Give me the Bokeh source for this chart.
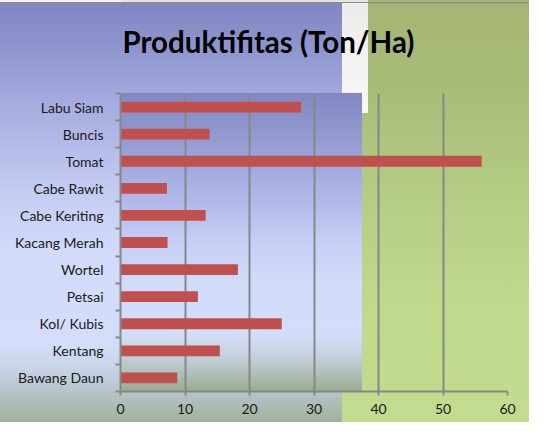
from bokeh.plotting import figure
from bokeh.models import FixedTicker
from bokeh.embed import file_html
from bokeh.resources import INLINE

# ---- data ----
categories = ["Bawang Daun", "Kentang", "Kol/ Kubis", "Petsai", "Wortel",
              "Kacang Merah", "Cabe Keriting", "Cabe Rawit", "Tomat", "Buncis", "Labu Siam"]
values = [8.8, 15.4, 25.0, 12.0, 18.2, 7.3, 13.2, 7.2, 56.0, 13.8, 28.0]
x_ticks = [0, 10, 20, 30, 40, 50, 60]
title_text = "Produktifitas (Ton/Ha)"

positions = [i + 0.5 for i in range(len(categories))]
boundaries = list(range(len(categories) + 1))

# ---- decorative slide background (CSS layers, element coordinates) ----
frame_grad = ("linear-gradient(to bottom, #8187c3 0%, #8d93cb 9.7%, #a2a9dd 24.9%, #b4bceb 38.3%, "
              "#c6cff5 50.1%, #d1dbfa 63.5%, #d3defb 80%, #c8d4e4 87%, #b1c0bb 93.8%, #99ad93 100%)"
              " 120px 93px / 242px 298px no-repeat")
white_strip = "linear-gradient(to bottom, #ececea, #f8f8f6) 342px 3px / 26px 110px no-repeat"
gray_line = "linear-gradient(#8c8c8c, #8c8c8c) 0px 2px / 100% 1.5px no-repeat"
top_left = "linear-gradient(#f4f4f1, #f4f4f1) 0px 0px / 121px 2px no-repeat"
top_mid = "linear-gradient(#e4e4e1, #e4e4e1) 121px 0px / 247px 2px no-repeat"
panel = ("linear-gradient(to bottom, #7f86c2 0%, #9097cf 11.7%, #a2a8dc 21.5%, #c4ccf2 45.1%, "
         "#d2dbfa 59.4%, #d4defb 80.9%, #c9d5e8 86.9%, #b7c4c8 92.8%, #9fb29c 100%)"
         " 0px 3px / 342px 419px no-repeat")
green = ("linear-gradient(to bottom, #a6b674 0%, #a9bc78 22%, #b4cc84 46%, #bed88c 70%, #c3dc90 100%)"
         " 0px 0px / 100% 100% no-repeat")
background = ", ".join([frame_grad, white_strip, gray_line, top_left, top_mid, panel, green])

p = figure(width=529, height=422, x_range=(0, 60), y_range=(0, 11),
           output_backend="svg", toolbar_location=None,
           min_border_left=120, min_border_right=22, min_border_top=93, min_border_bottom=31,
           background_fill_color=None, border_fill_color=None, outline_line_color=None,
           styles={"background": background})

p.hbar(y=positions, left=0, right=values, height=0.4,
       fill_color="#c0504d", line_color=None)

# title (an empty second line lifts it away from the plot area)
p.title.text = title_text + "\n "
p.title.align = "left"
p.title.offset = 2
p.title.standoff = 0
p.title.text_font = "Lato"
p.title.text_font_style = "bold"
p.title.text_font_size = "29.5px"
p.title.text_line_height = 1.0
p.title.text_color = "#000000"

# x axis / grid
p.xaxis.ticker = FixedTicker(ticks=x_ticks)
p.xgrid.ticker = FixedTicker(ticks=x_ticks)
p.xgrid.grid_line_color = "#878787"
p.xgrid.grid_line_width = 2
p.ygrid.visible = False
p.xaxis.axis_line_color = "#878787"
p.xaxis.axis_line_width = 2
p.xaxis.major_tick_line_color = "#878787"
p.xaxis.major_tick_line_width = 2
p.xaxis.major_tick_in = 0
p.xaxis.major_tick_out = 4
p.xaxis.minor_tick_line_color = None
p.xaxis.major_label_standoff = 8
p.xaxis.major_label_text_font = "Lato"
p.xaxis.major_label_text_font_size = "14px"
p.xaxis.major_label_text_color = "#1a1a1a"

# y axis: labels at centres, tick marks at category boundaries
p.yaxis.ticker = FixedTicker(ticks=positions, minor_ticks=boundaries)
p.yaxis.major_label_overrides = {pos: name for pos, name in zip(positions, categories)}
p.yaxis.axis_line_color = "#878787"
p.yaxis.axis_line_width = 2
p.yaxis.major_tick_line_color = None
p.yaxis.major_tick_in = 0
p.yaxis.major_tick_out = 0
p.yaxis.minor_tick_line_color = "#878787"
p.yaxis.minor_tick_line_width = 2
p.yaxis.minor_tick_in = 0
p.yaxis.minor_tick_out = 5
p.yaxis.major_label_standoff = 12
p.yaxis.major_label_text_font = "Lato"
p.yaxis.major_label_text_font_size = "14px"
p.yaxis.major_label_text_color = "#1a1a1a"

open("out.html", "w").write(file_html(p, INLINE))
